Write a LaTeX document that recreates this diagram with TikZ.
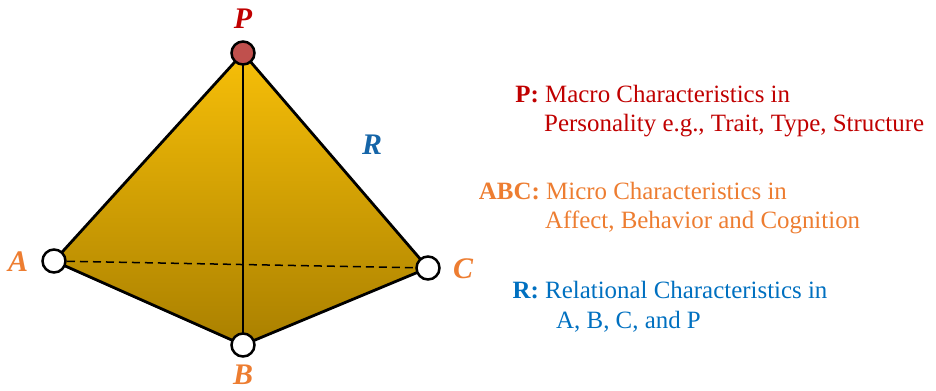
\documentclass[tikz,border=0pt]{standalone}
\usepackage{fontspec}
\setmainfont{Liberation Serif}
\definecolor{pred}{HTML}{C00000}
\definecolor{porange}{HTML}{ED7D31}
\definecolor{pblue}{HTML}{0070C0}
\definecolor{rblue}{HTML}{1565A8}
\definecolor{pfill}{HTML}{C0504D}
\definecolor{goldtop}{HTML}{F7BF08}
\definecolor{goldbot}{HTML}{AA8000}
\begin{document}
\begin{tikzpicture}[x=1bp,y=-1bp,
  vtx/.style={circle,draw=black,line width=2.5bp,fill=white,minimum size=23bp,inner sep=0pt},
  edge/.style={line width=2.8bp,line join=round},
  lab/.style={font=\fontsize{30}{34}\selectfont\bfseries\itshape},
  desc/.style={anchor=base west,inner sep=0pt,font=\fontsize{25}{29}\selectfont},
  key/.style={anchor=base east,inner sep=0pt,font=\fontsize{25}{29}\selectfont\bfseries}]
\useasboundingbox (0,0) rectangle (936,390);
\coordinate (P) at (243,53);
\coordinate (A) at (54,261);
\coordinate (C) at (428,268);
\coordinate (B) at (243,345);
\shade[top color=goldtop,bottom color=goldbot] (P) -- (A) -- (B) -- (C) -- cycle;
\draw[line width=1.5bp,dash pattern=on 8bp off 5bp] (A) -- (C);
\draw[edge] (P) -- (A) -- (B) -- (C) -- cycle;
\draw[edge] (P) -- (B);
\node[vtx,fill=pfill] (nP) at (P) {};
\node[vtx] (nA) at (A) {};
\node[vtx] (nB) at (B) {};
\node[vtx] (nC) at (C) {};
\node[lab,text=pred] (lP) at (243,19) {P};
\node[lab,text=porange] (lA) at (18,262) {A};
\node[lab,text=porange] (lB) at (243,375) {B};
\node[lab,text=porange] (lC) at (463,269) {C};
\node[lab,text=rblue] (lR) at (372,145) {R};
\node[key,text=pred] (k1) at (539,102) {P:};
\node[desc,text=pred] (d1a) at (545,102) {Macro Characteristics in};
\node[desc,text=pred] (d1b) at (544,131) {Personality e.g., Trait, Type, Structure};
\node[key,text=porange] (k2) at (540,199) {ABC:};
\node[desc,text=porange] (d2a) at (546,199) {Micro Characteristics in};
\node[desc,text=porange] (d2b) at (545,228) {Affect, Behavior and Cognition};
\node[key,text=pblue] (k3) at (539,298) {R:};
\node[desc,text=pblue] (d3a) at (545,298) {Relational Characteristics in};
\node[desc,text=pblue] (d3b) at (556,328) {A, B, C, and P};
\end{tikzpicture}
\end{document}
